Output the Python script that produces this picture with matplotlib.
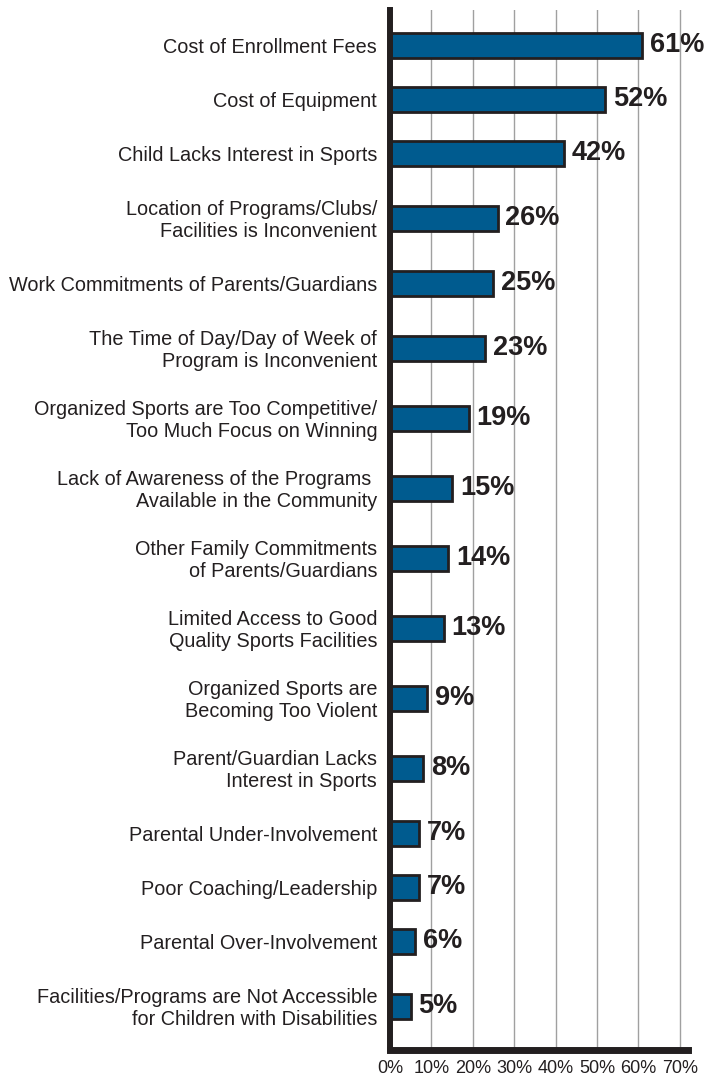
import matplotlib
matplotlib.use("Agg")
import matplotlib.pyplot as plt
from matplotlib import font_manager
import numpy as np

categories = [
    "Cost of Enrollment Fees",
    "Cost of Equipment",
    "Child Lacks Interest in Sports",
    "Location of Programs/Clubs/\nFacilities is Inconvenient",
    "Work Commitments of Parents/Guardians",
    "The Time of Day/Day of Week of\nProgram is Inconvenient",
    "Organized Sports are Too Competitive/\nToo Much Focus on Winning",
    "Lack of Awareness of the Programs \nAvailable in the Community",
    "Other Family Commitments\nof Parents/Guardians",
    "Limited Access to Good\nQuality Sports Facilities",
    "Organized Sports are\nBecoming Too Violent",
    "Parent/Guardian Lacks\nInterest in Sports",
    "Parental Under-Involvement",
    "Poor Coaching/Leadership",
    "Parental Over-Involvement",
    "Facilities/Programs are Not Accessible\nfor Children with Disabilities",
]
values = [61, 52, 42, 26, 25, 23, 19, 15, 14, 13, 9, 8, 7, 7, 6, 5]
xticks = [0, 10, 20, 30, 40, 50, 60, 70]

# pick a narrow font if there is one
fam = "DejaVu Sans"
for f in ["Liberation Sans Narrow", "Liberation Sans"]:
    try:
        font_manager.findfont(f, fallback_to_default=False)
        fam = f
        break
    except Exception:
        pass

# spacing between rows depends on how many lines the labels have
lines = [c.count("\n") + 1 for c in categories]
gap = {2: 54, 3: 65, 4: 70}
ypos = [0]
for i in range(1, len(categories)):
    ypos.append(ypos[-1] + gap[lines[i - 1] + lines[i]])
ypos = np.array(ypos)

W, H = 717, 1078
fig = plt.figure(figsize=(W / 100, H / 100), dpi=100)
ax = fig.add_axes([390 / W, (H - 1050) / H, 298 / W, 1040 / H])

dark = "#231f20"
ax.barh(ypos, values, height=24.5, color="#005b8f", edgecolor=dark,
        linewidth=2, zorder=3)

for y, v in zip(ypos, values):
    ax.text(v + 1.9, y, f"{v}%", va="center", ha="left", family=fam,
            fontweight="bold", fontsize=19.5, color=dark)

for y, c in zip(ypos, categories):
    ax.text(-3.1, y + 2, c, va="center", ha="right", multialignment="right",
            family=fam, fontsize=14.3, color=dark, linespacing=1.22)

ax.set_xlim(0, 72)
ax.set_ylim(ypos[0] + 1004.7, ypos[0] - 35.3)
ax.set_yticks([])
ax.set_xticks(xticks)
ax.set_xticklabels([f"{t}%" for t in xticks], family=fam, fontsize=13,
                   color=dark)
ax.tick_params(axis="x", length=0, pad=7)
for t in xticks[1:]:
    ax.axvline(t, color="#a0a0a0", linewidth=1, zorder=1)

ax.spines["top"].set_visible(False)
ax.spines["right"].set_visible(False)
ax.spines["left"].set_linewidth(4.3)
ax.spines["bottom"].set_linewidth(5)
ax.spines["left"].set_color(dark)
ax.spines["bottom"].set_color(dark)
ax.spines["left"].set_zorder(4)

fig.savefig("out.png", dpi=100)
